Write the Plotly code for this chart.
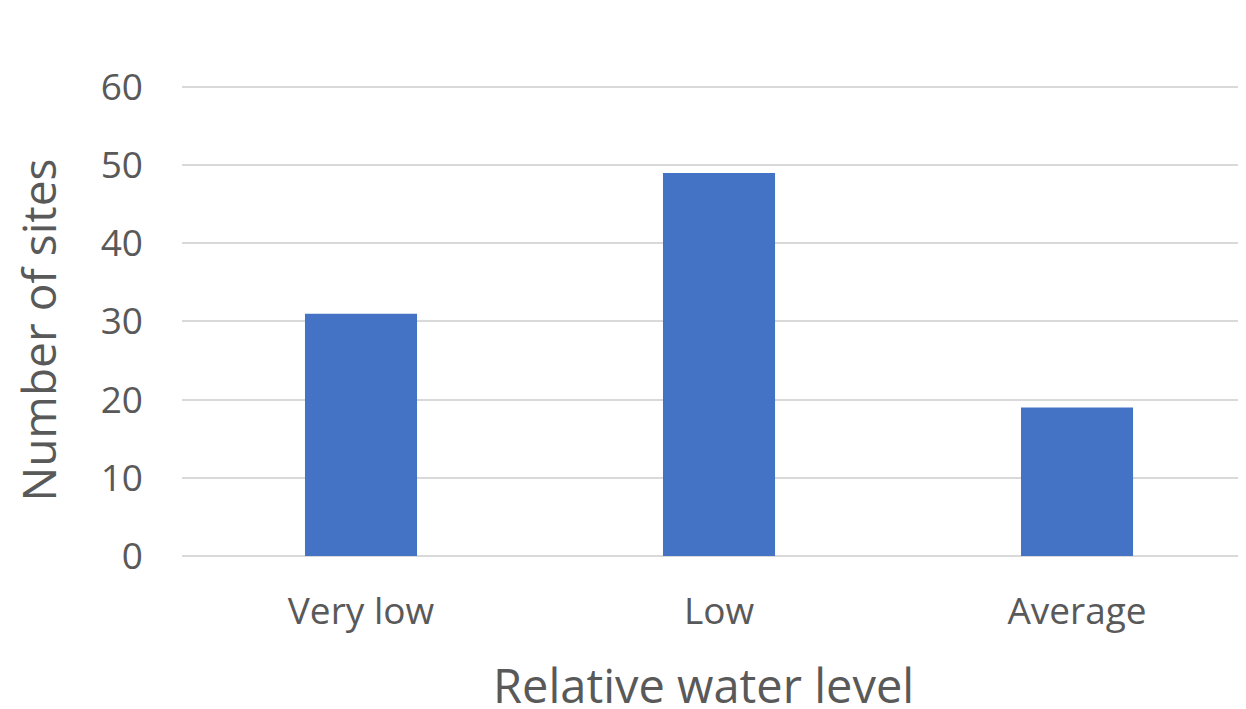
import plotly.graph_objects as go

categories = ["Very low", "Low", "Average"]
values = [31, 49, 19]
y_ticks = [0, 10, 20, 30, 40, 50, 60]

FONT = "Open Sans"
GRAY = "#595959"

fig = go.Figure(go.Bar(x=categories, y=values, marker=dict(color="#4472C4", line=dict(width=0)), width=0.313))

# page body has an 8px margin, so the figure is sized to fit 1246x709 from offset (8, 8)
fig.update_layout(
    width=1238, height=701,
    margin=dict(l=174, r=0, t=71, b=153),
    paper_bgcolor="white", plot_bgcolor="white",
    showlegend=False,
    font=dict(family=FONT, color=GRAY),
    xaxis=dict(range=[-0.5, 2.472], showgrid=False, showline=False, ticks="",
               tickfont=dict(size=37, color=GRAY), ticklabelstandoff=30),
    yaxis=dict(range=[0, 61.02], tickvals=y_ticks, showgrid=True, gridcolor="#D9D9D9", gridwidth=1.5,
               zeroline=True, zerolinecolor="#D9D9D9", zerolinewidth=1.5,
               showline=False, ticks="", tickfont=dict(size=37, color=GRAY), ticklabelstandoff=38),
    annotations=[
        dict(text="Relative water level", xref="paper", yref="paper", x=0.49, y=0, yshift=-129,
             xanchor="center", yanchor="middle", showarrow=False, font=dict(size=47, color=GRAY)),
        dict(text="Number of sites", xref="paper", yref="paper", x=0, xshift=-145, y=0.5, yshift=-13,
             xanchor="center", yanchor="middle", textangle=-90, showarrow=False, font=dict(size=46, color=GRAY)),
    ],
)

fig.write_html("out.html")
